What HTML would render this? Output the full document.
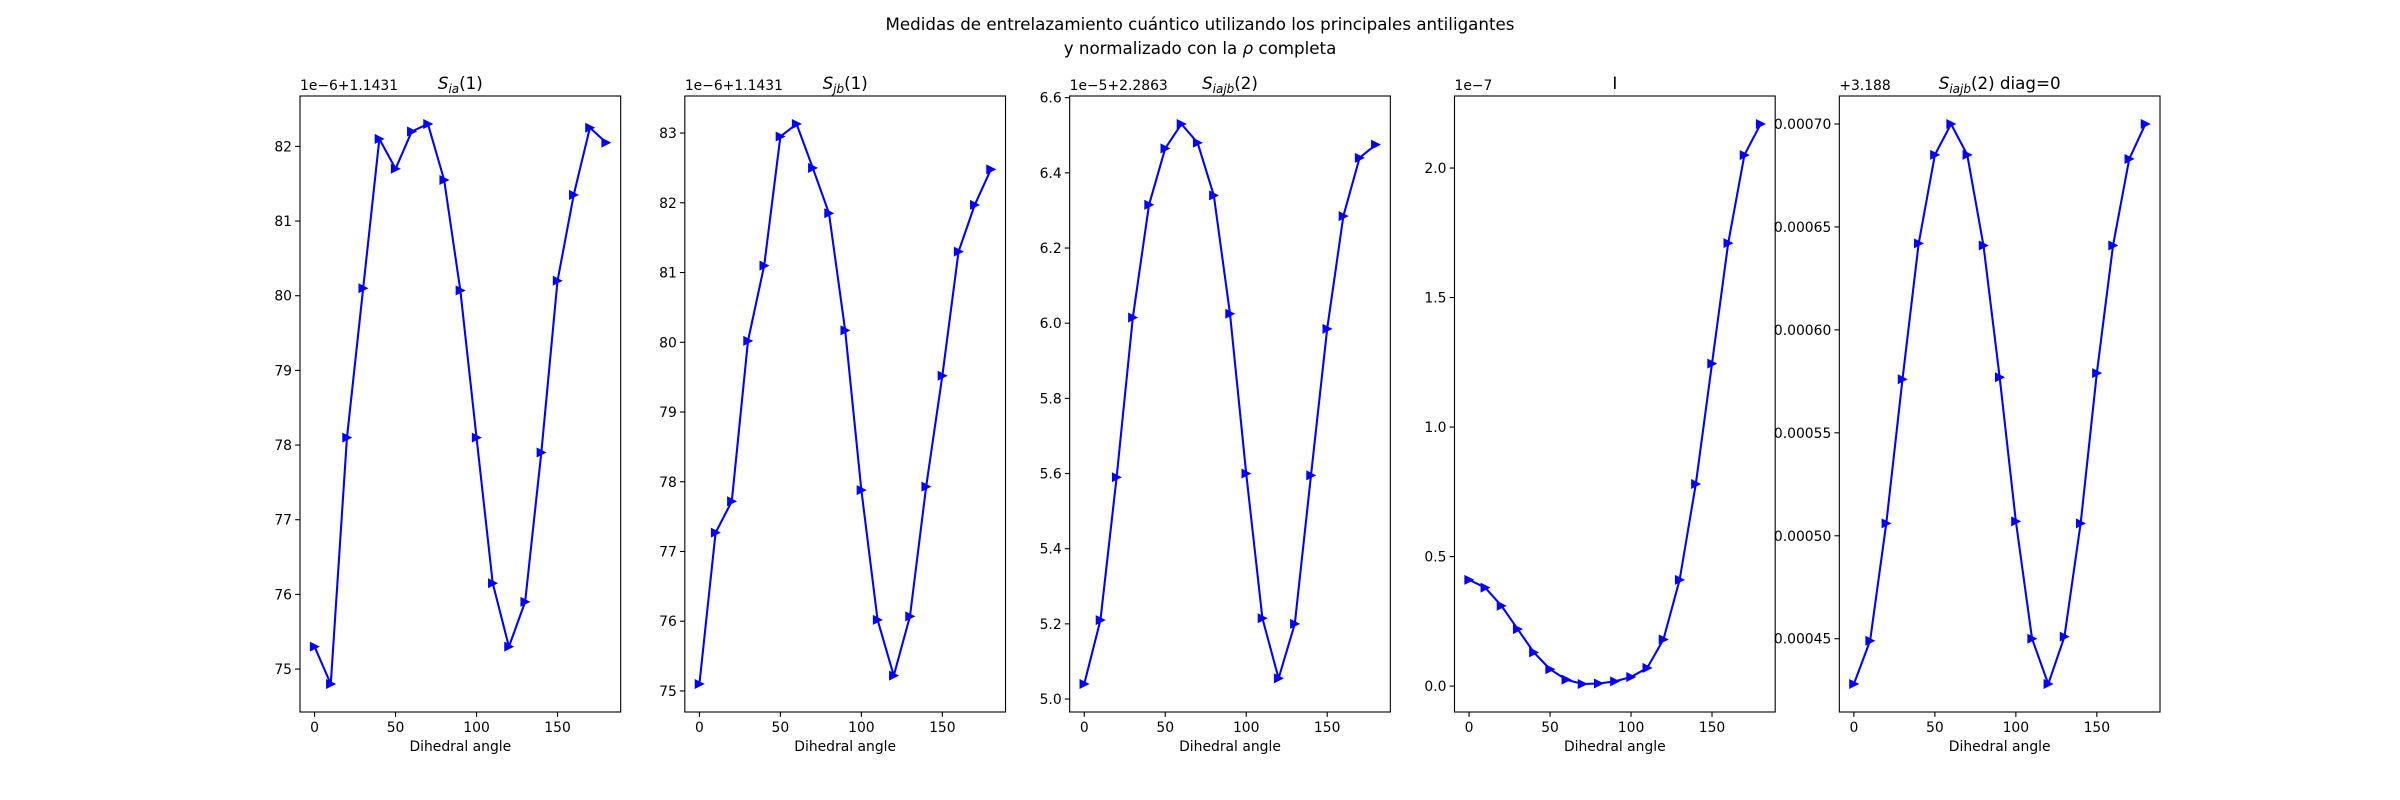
<!DOCTYPE html>
<html><head><meta charset="utf-8"><style>
body{margin:0;background:#fff}
svg{display:block;font-family:"DejaVu Sans","Liberation Sans",sans-serif}
</style></head><body>
<svg id="fig" width="2400" height="800" viewBox="0 0 2400 800">
<rect width="2400" height="800" fill="#fff"/>
<text x="1200" y="30" text-anchor="middle" font-size="16.7">Medidas de entrelazamiento cuántico utilizando los principales antiligantes</text>
<text x="1200" y="54" text-anchor="middle" font-size="16.7">y normalizado con la <tspan font-style="italic">ρ</tspan> completa</text>
</svg>
<script>
const angles=[0,10,20,30,40,50,60,70,80,90,100,110,120,130,140,150,160,170,180];
const xTicks=[0,50,100,150];
const s1Values=[75.3,74.8,78.1,80.1,82.1,81.7,82.2,82.3,81.55,80.07,78.1,76.15,75.3,75.9,77.9,80.2,81.35,82.25,82.05];
const s1Ticks=[75,76,77,78,79,80,81,82];
const s2Values=[75.1,77.27,77.72,80.02,81.1,82.95,83.13,82.5,81.85,80.17,77.88,76.02,75.22,76.07,77.93,79.52,81.3,81.97,82.48];
const s2Ticks=[75,76,77,78,79,80,81,82,83];
const s3Values=[5.04,5.21,5.59,6.015,6.315,6.465,6.53,6.48,6.34,6.025,5.6,5.215,5.055,5.2,5.595,5.985,6.285,6.44,6.475];
const s3Ticks=[5.0,5.2,5.4,5.6,5.8,6.0,6.2,6.4,6.6];
const s4Values=[0.41,0.38,0.31,0.22,0.13,0.065,0.025,0.008,0.01,0.018,0.035,0.07,0.18,0.41,0.78,1.245,1.71,2.05,2.17];
const s4Ticks=[0,0.5,1.0,1.5,2.0];
const s5Values=[0.000428,0.000449,0.000506,0.000576,0.000642,0.000685,0.000700,0.000685,0.000641,0.000577,0.000507,0.000450,0.000428,0.000451,0.000506,0.000579,0.000641,0.000683,0.000700];
const s5Ticks=[0.00045,0.00050,0.00055,0.00060,0.00065,0.00070];

const NS="http://www.w3.org/2000/svg";
const svgRoot=document.getElementById('fig');
function mk(tag,attrs,parent){const e=document.createElementNS(NS,tag);for(const k in attrs)e.setAttribute(k,attrs[k]);(parent||svgRoot).appendChild(e);return e;}

const panels=[
 {vals:s1Values,ticks:s1Ticks,dec:0,offset:"1e\u22126+1.1431",title:["S","ia","(1)"]},
 {vals:s2Values,ticks:s2Ticks,dec:0,offset:"1e\u22126+1.1431",title:["S","jb","(1)"]},
 {vals:s3Values,ticks:s3Ticks,dec:1,offset:"1e\u22125+2.2863",title:["S","iajb","(2)"]},
 {vals:s4Values,ticks:s4Ticks,dec:1,offset:"1e\u22127",title:null},
 {vals:s5Values,ticks:s5Ticks,dec:5,offset:"+3.188",title:["S","iajb","(2) diag=0"]}
];
const axTop=96,axBot=712,axW=320.69,axStep=384.83;
panels.forEach((p,i)=>{
 const g=mk('g',{});
 
 
 const L=300+i*axStep;
 const x=v=>L+(v+9)/198*axW;
 const mn=Math.min(...p.vals),mx=Math.max(...p.vals),m=(mx-mn)*0.05;
 const y=v=>axBot-(v-(mn-m))/((mx+m)-(mn-m))*(axBot-axTop);
 const pts=angles.map((a,j)=>x(a).toFixed(2)+','+y(p.vals[j]).toFixed(2)).join(' ');
 const line=mk('polyline',{points:pts,fill:'none',stroke:'#0000ff','stroke-width':2.08,'stroke-linejoin':'round'},g);
 
 
 angles.forEach((a,j)=>{
  const cx=x(a),cy=y(p.vals[j]);
  const mkr=mk('polygon',{points:`${cx+4.2},${cy} ${cx-4.2},${cy-4.2} ${cx-4.2},${cy+4.2}`,fill:'#0000ff',stroke:'#0000ff','stroke-width':1},g);
  
  
 });
 const fr=mk('rect',{x:L,y:axTop,width:axW,height:axBot-axTop,fill:'none',stroke:'#000','stroke-width':1.1},g);
 
 
 xTicks.forEach(t=>{
  mk('line',{x1:x(t),x2:x(t),y1:axBot,y2:axBot+4.9,stroke:'#000','stroke-width':1.1},g);
  const tl=mk('text',{x:x(t),y:axBot+20,'text-anchor':'middle','font-size':13.9},g);
  tl.textContent=t;
  
  
 });
 p.ticks.forEach(t=>{
  const yy=y(t);
  mk('line',{x1:L-4.9,x2:L,y1:yy,y2:yy,stroke:'#000','stroke-width':1.1},g);
  const tl=mk('text',{x:L-8,y:yy+5,'text-anchor':'end','font-size':13.9},g);
  tl.textContent=t.toFixed(p.dec);
  
  
 });
 const xl=mk('text',{x:L+axW/2,y:axBot+39,'text-anchor':'middle','font-size':13.9},g);
 xl.textContent='Dihedral angle';
 
 
 const off=mk('text',{x:L,y:axTop-6,'font-size':13.9},g);
 off.textContent=p.offset;
 
 
 const tt=mk('text',{x:L+axW/2,y:axTop-7,'text-anchor':'middle','font-size':16.7},g);
 
 
 if(p.title){
  const a=mk('tspan',{'font-style':'italic'},tt);a.textContent=p.title[0];
  const b=mk('tspan',{'font-style':'italic','font-size':12,dy:4},tt);b.textContent=p.title[1];
  const c=mk('tspan',{dy:-4},tt);c.textContent=p.title[2];
 } else tt.textContent='I';
});
</script>
</body></html>
